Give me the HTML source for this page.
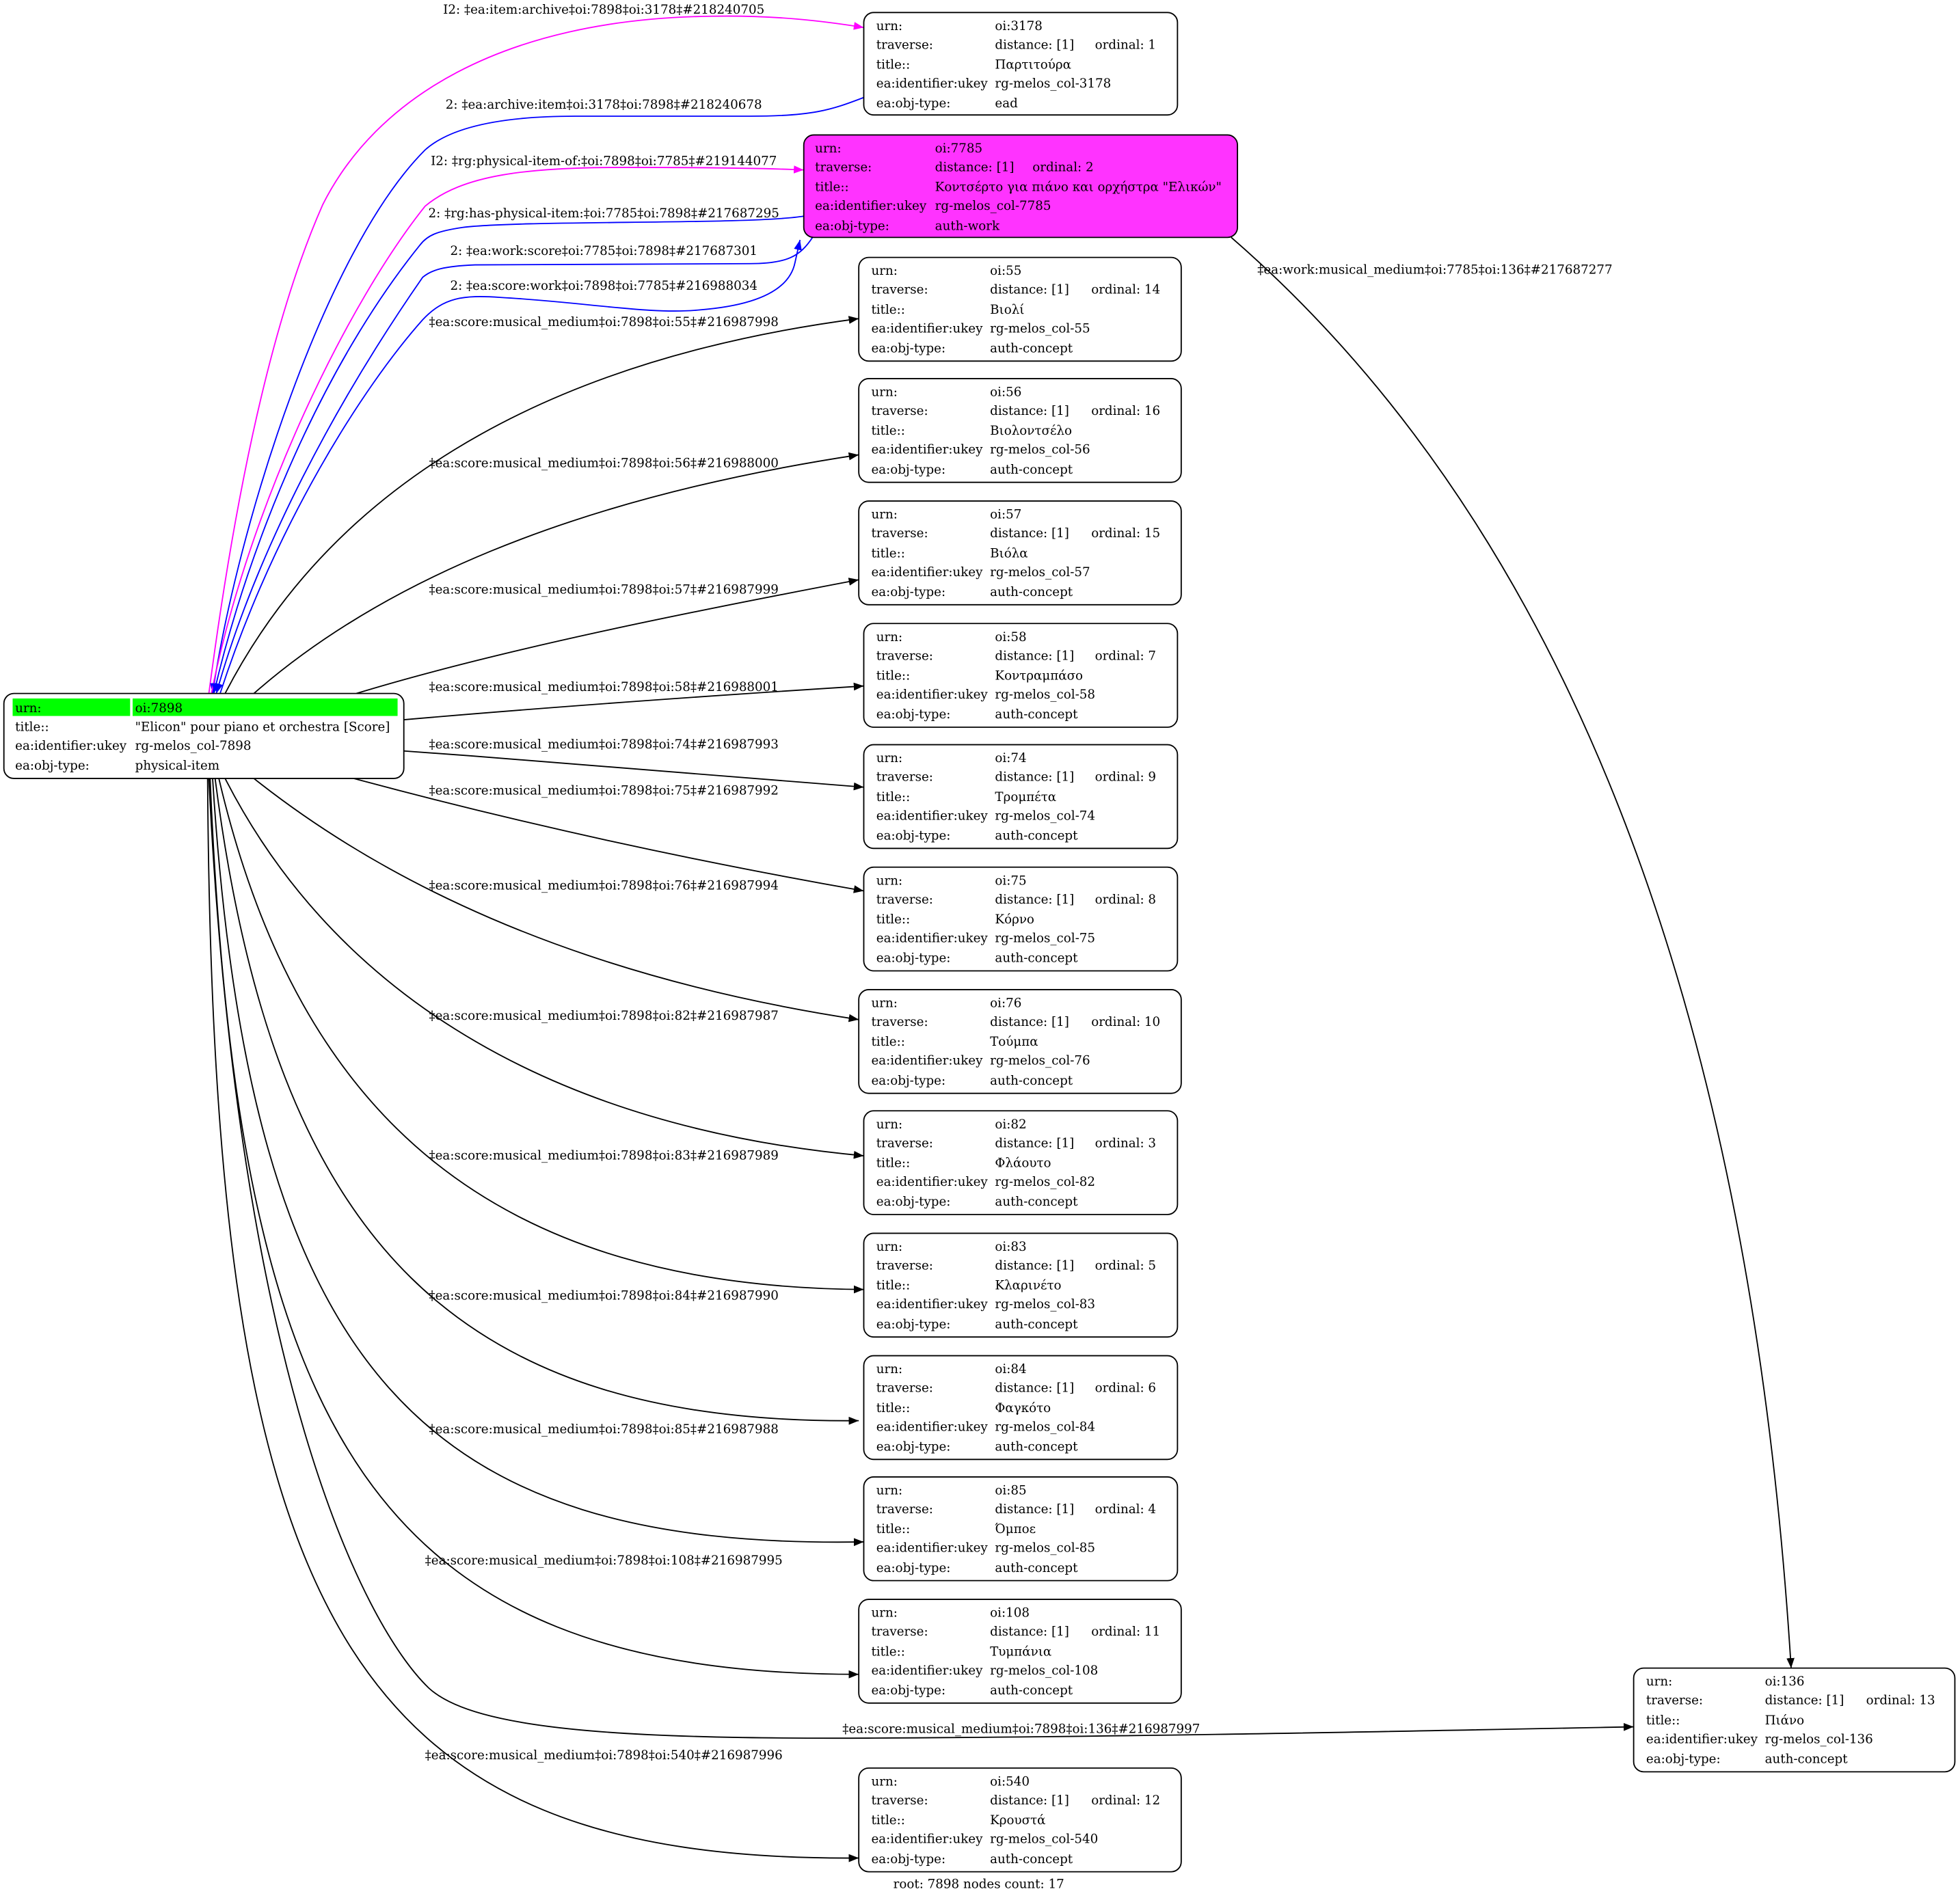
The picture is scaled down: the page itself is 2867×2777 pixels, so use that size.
<!DOCTYPE html>
<html><head><meta charset="utf-8"><style>
html,body{margin:0;padding:0;background:#fff}
svg{display:block}
text{font-family:"DejaVu Serif","Liberation Serif",serif;font-size:10px;fill:#000}
.n rect{fill:#fff;stroke:#000;stroke-width:1}
.e{fill:none;stroke:#000;stroke-width:1}
</style></head><body>
<svg width="2867" height="2777" viewBox="0 0 1568 1519" xmlns="http://www.w3.org/2000/svg">
<defs>
<marker id="ak" viewBox="0 0 10 10" refX="10" refY="5" markerWidth="8" markerHeight="8" orient="auto" markerUnits="userSpaceOnUse"><path d="M0,1 L10,5 L0,9 z" fill="#000"/></marker>
<marker id="am" viewBox="0 0 10 10" refX="10" refY="5" markerWidth="8" markerHeight="8" orient="auto" markerUnits="userSpaceOnUse"><path d="M0,1 L10,5 L0,9 z" fill="#ff00ff"/></marker>
<marker id="ab" viewBox="0 0 10 10" refX="10" refY="5" markerWidth="8" markerHeight="8" orient="auto" markerUnits="userSpaceOnUse"><path d="M0,1 L10,5 L0,9 z" fill="#0000ff"/></marker>
</defs>

<!-- edges -->
<path d="M167,555 C190,380 220,250 258,164 C300,80 400,15 569,13 C620,12 660,17 691,22" style="fill:none;stroke:#ff00ff" marker-end="url(#am)"/>
<path d="M691,78 C665,88 650,93 600,93 L460,93 C400,93 360,102 340,120 C260,200 190,420 170,555" style="fill:none;stroke:#0000ff" marker-end="url(#ab)"/>
<path d="M169,555 C200,400 280,240 340,165 C370,140 420,134 500,134 C580,134 620,135 643,136" style="fill:none;stroke:#ff00ff" marker-end="url(#am)"/>
<path d="M643,173 C600,180 420,176 370,182 C350,185 342,188 336,196 C260,290 200,430 171,555" style="fill:none;stroke:#0000ff" marker-end="url(#ab)"/>
<path d="M650,190 C640,205 630,211 600,211 L380,212 C355,213 345,216 338,222 C270,320 205,440 173,555" style="fill:none;stroke:#0000ff" marker-end="url(#ab)"/>
<path d="M176,555 C220,420 290,310 338,256 C355,238 370,236 400,238 C470,242 520,252 560,248 C610,244 632,230 636,210 L640,192" style="fill:none;stroke:#0000ff" marker-end="url(#ab)"/>

<path class="e" d="M180,555 C260,400 420,290 687,255" marker-end="url(#ak)"/>
<path class="e" d="M203,555 C300,470 450,400 687,364" marker-end="url(#ak)"/>
<path class="e" d="M285,555 C400,520 550,490 687,464" marker-end="url(#ak)"/>
<path class="e" d="M323,576 C450,565 580,556 691,549" marker-end="url(#ak)"/>
<path class="e" d="M323,601 C450,610 580,621 691,630" marker-end="url(#ak)"/>
<path class="e" d="M283,623 C420,660 560,690 691,713" marker-end="url(#ak)"/>
<path class="e" d="M203,623 C300,700 450,780 687,816" marker-end="url(#ak)"/>
<path class="e" d="M180,623 C260,780 420,900 691,925" marker-end="url(#ak)"/>
<path class="e" d="M175,623 C240,900 400,1030 691,1032" marker-end="url(#ak)"/>
<path class="e" d="M172,623 C220,1000 370,1140 687,1137" marker-end="url(#ak)"/>
<path class="e" d="M170,623 C200,1100 340,1240 691,1234" marker-end="url(#ak)"/>
<path class="e" d="M168,623 C190,1150 300,1340 687,1340" marker-end="url(#ak)"/>
<path class="e" d="M167,623 C190,1100 290,1300 343,1351 C380,1385 500,1392 700,1391 C900,1390 1100,1386 1307,1382" marker-end="url(#ak)"/>
<path class="e" d="M166,623 C170,1300 280,1490 687,1487" marker-end="url(#ak)"/>
<path class="e" d="M985,190 C1250,420 1400,800 1433,1335" marker-end="url(#ak)"/>

<!-- edge labels -->
<g text-anchor="middle">
<text x="483" y="11">I2: ‡ea:item:archive‡oi:7898‡oi:3178‡#218240705</text>
<text x="483" y="87">2: ‡ea:archive:item‡oi:3178‡oi:7898‡#218240678</text>
<text x="483" y="132">I2: ‡rg:physical-item-of:‡oi:7898‡oi:7785‡#219144077</text>
<text x="483" y="174">2: ‡rg:has-physical-item:‡oi:7785‡oi:7898‡#217687295</text>
<text x="483" y="204">2: ‡ea:work:score‡oi:7785‡oi:7898‡#217687301</text>
<text x="483" y="232">2: ‡ea:score:work‡oi:7898‡oi:7785‡#216988034</text>
<text x="483" y="261">‡ea:score:musical_medium‡oi:7898‡oi:55‡#216987998</text>
<text x="483" y="374">‡ea:score:musical_medium‡oi:7898‡oi:56‡#216988000</text>
<text x="483" y="475">‡ea:score:musical_medium‡oi:7898‡oi:57‡#216987999</text>
<text x="483" y="553">‡ea:score:musical_medium‡oi:7898‡oi:58‡#216988001</text>
<text x="483" y="599">‡ea:score:musical_medium‡oi:7898‡oi:74‡#216987993</text>
<text x="483" y="636">‡ea:score:musical_medium‡oi:7898‡oi:75‡#216987992</text>
<text x="483" y="712">‡ea:score:musical_medium‡oi:7898‡oi:76‡#216987994</text>
<text x="483" y="816">‡ea:score:musical_medium‡oi:7898‡oi:82‡#216987987</text>
<text x="483" y="928">‡ea:score:musical_medium‡oi:7898‡oi:83‡#216987989</text>
<text x="483" y="1040">‡ea:score:musical_medium‡oi:7898‡oi:84‡#216987990</text>
<text x="483" y="1147">‡ea:score:musical_medium‡oi:7898‡oi:85‡#216987988</text>
<text x="483" y="1252">‡ea:score:musical_medium‡oi:7898‡oi:108‡#216987995</text>
<text x="817" y="1387">‡ea:score:musical_medium‡oi:7898‡oi:136‡#216987997</text>
<text x="483" y="1408">‡ea:score:musical_medium‡oi:7898‡oi:540‡#216987996</text>
<text x="1148" y="219">‡ea:work:musical_medium‡oi:7785‡oi:136‡#217687277</text>
<text x="783" y="1511">root: 7898 nodes count: 17</text>
</g>

<!-- root node -->
<g class="n">
<rect x="3" y="555" width="320" height="68" rx="8"/>
<rect x="10" y="559" width="94" height="14" style="fill:#00ff00;stroke:none"/>
<rect x="106" y="559" width="212" height="14" style="fill:#00ff00;stroke:none"/>
<text x="12" y="570">urn:</text><text x="108" y="570">oi:7898</text>
<text x="12" y="585">title::</text><text x="108" y="585">"Elicon" pour piano et orchestra [Score]</text>
<text x="12" y="600">ea:identifier:ukey</text><text x="108" y="600">rg-melos_col-7898</text>
<text x="12" y="616">ea:obj-type:</text><text x="108" y="616">physical-item</text>
</g>

<!-- 7785 -->
<g class="n">
<rect x="643" y="108" width="347" height="82" rx="8" style="fill:#ff33ff"/>
<text x="652" y="122">urn:</text><text x="748" y="122">oi:7785</text>
<text x="652" y="137">traverse:</text><text x="748" y="137">distance: [1]</text><text x="826" y="137">ordinal: 2</text>
<text x="652" y="153">title::</text><text x="748" y="153">Κοντσέρτο για πιάνο και ορχήστρα "Ελικών"</text>
<text x="652" y="168">ea:identifier:ukey</text><text x="748" y="168">rg-melos_col-7785</text>
<text x="652" y="184">ea:obj-type:</text><text x="748" y="184">auth-work</text>
</g>

<g class="n" transform="translate(691,10)">
<rect x="0" y="0" width="251" height="82" rx="8"/>
<text x="10" y="14">urn:</text><text x="105" y="14">oi:3178</text>
<text x="10" y="29">traverse:</text><text x="105" y="29">distance: [1]</text><text x="185" y="29">ordinal: 1</text>
<text x="10" y="45">title::</text><text x="105" y="45">Παρτιτούρα</text>
<text x="10" y="60">ea:identifier:ukey</text><text x="105" y="60">rg-melos_col-3178</text>
<text x="10" y="76">ea:obj-type:</text><text x="105" y="76">ead</text>
</g>

<g class="n" transform="translate(687,206)">
<rect x="0" y="0" width="258" height="83" rx="8"/>
<text x="10" y="14">urn:</text><text x="105" y="14">oi:55</text>
<text x="10" y="29">traverse:</text><text x="105" y="29">distance: [1]</text><text x="186" y="29">ordinal: 14</text>
<text x="10" y="45">title::</text><text x="105" y="45">Βιολί</text>
<text x="10" y="60">ea:identifier:ukey</text><text x="105" y="60">rg-melos_col-55</text>
<text x="10" y="76">ea:obj-type:</text><text x="105" y="76">auth-concept</text>
</g>

<g class="n" transform="translate(687,303)">
<rect x="0" y="0" width="258" height="83" rx="8"/>
<text x="10" y="14">urn:</text><text x="105" y="14">oi:56</text>
<text x="10" y="29">traverse:</text><text x="105" y="29">distance: [1]</text><text x="186" y="29">ordinal: 16</text>
<text x="10" y="45">title::</text><text x="105" y="45">Βιολοντσέλο</text>
<text x="10" y="60">ea:identifier:ukey</text><text x="105" y="60">rg-melos_col-56</text>
<text x="10" y="76">ea:obj-type:</text><text x="105" y="76">auth-concept</text>
</g>

<g class="n" transform="translate(687,401)">
<rect x="0" y="0" width="258" height="83" rx="8"/>
<text x="10" y="14">urn:</text><text x="105" y="14">oi:57</text>
<text x="10" y="29">traverse:</text><text x="105" y="29">distance: [1]</text><text x="186" y="29">ordinal: 15</text>
<text x="10" y="45">title::</text><text x="105" y="45">Βιόλα</text>
<text x="10" y="60">ea:identifier:ukey</text><text x="105" y="60">rg-melos_col-57</text>
<text x="10" y="76">ea:obj-type:</text><text x="105" y="76">auth-concept</text>
</g>

<g class="n" transform="translate(691,499)">
<rect x="0" y="0" width="251" height="83" rx="8"/>
<text x="10" y="14">urn:</text><text x="105" y="14">oi:58</text>
<text x="10" y="29">traverse:</text><text x="105" y="29">distance: [1]</text><text x="185" y="29">ordinal: 7</text>
<text x="10" y="45">title::</text><text x="105" y="45">Κοντραμπάσο</text>
<text x="10" y="60">ea:identifier:ukey</text><text x="105" y="60">rg-melos_col-58</text>
<text x="10" y="76">ea:obj-type:</text><text x="105" y="76">auth-concept</text>
</g>

<g class="n" transform="translate(691,596)">
<rect x="0" y="0" width="251" height="83" rx="8"/>
<text x="10" y="14">urn:</text><text x="105" y="14">oi:74</text>
<text x="10" y="29">traverse:</text><text x="105" y="29">distance: [1]</text><text x="185" y="29">ordinal: 9</text>
<text x="10" y="45">title::</text><text x="105" y="45">Τρομπέτα</text>
<text x="10" y="60">ea:identifier:ukey</text><text x="105" y="60">rg-melos_col-74</text>
<text x="10" y="76">ea:obj-type:</text><text x="105" y="76">auth-concept</text>
</g>

<g class="n" transform="translate(691,694)">
<rect x="0" y="0" width="251" height="83" rx="8"/>
<text x="10" y="14">urn:</text><text x="105" y="14">oi:75</text>
<text x="10" y="29">traverse:</text><text x="105" y="29">distance: [1]</text><text x="185" y="29">ordinal: 8</text>
<text x="10" y="45">title::</text><text x="105" y="45">Κόρνο</text>
<text x="10" y="60">ea:identifier:ukey</text><text x="105" y="60">rg-melos_col-75</text>
<text x="10" y="76">ea:obj-type:</text><text x="105" y="76">auth-concept</text>
</g>

<g class="n" transform="translate(687,792)">
<rect x="0" y="0" width="258" height="83" rx="8"/>
<text x="10" y="14">urn:</text><text x="105" y="14">oi:76</text>
<text x="10" y="29">traverse:</text><text x="105" y="29">distance: [1]</text><text x="186" y="29">ordinal: 10</text>
<text x="10" y="45">title::</text><text x="105" y="45">Τούμπα</text>
<text x="10" y="60">ea:identifier:ukey</text><text x="105" y="60">rg-melos_col-76</text>
<text x="10" y="76">ea:obj-type:</text><text x="105" y="76">auth-concept</text>
</g>

<g class="n" transform="translate(691,889)">
<rect x="0" y="0" width="251" height="83" rx="8"/>
<text x="10" y="14">urn:</text><text x="105" y="14">oi:82</text>
<text x="10" y="29">traverse:</text><text x="105" y="29">distance: [1]</text><text x="185" y="29">ordinal: 3</text>
<text x="10" y="45">title::</text><text x="105" y="45">Φλάουτο</text>
<text x="10" y="60">ea:identifier:ukey</text><text x="105" y="60">rg-melos_col-82</text>
<text x="10" y="76">ea:obj-type:</text><text x="105" y="76">auth-concept</text>
</g>

<g class="n" transform="translate(691,987)">
<rect x="0" y="0" width="251" height="83" rx="8"/>
<text x="10" y="14">urn:</text><text x="105" y="14">oi:83</text>
<text x="10" y="29">traverse:</text><text x="105" y="29">distance: [1]</text><text x="185" y="29">ordinal: 5</text>
<text x="10" y="45">title::</text><text x="105" y="45">Κλαρινέτο</text>
<text x="10" y="60">ea:identifier:ukey</text><text x="105" y="60">rg-melos_col-83</text>
<text x="10" y="76">ea:obj-type:</text><text x="105" y="76">auth-concept</text>
</g>

<g class="n" transform="translate(691,1085)">
<rect x="0" y="0" width="251" height="83" rx="8"/>
<text x="10" y="14">urn:</text><text x="105" y="14">oi:84</text>
<text x="10" y="29">traverse:</text><text x="105" y="29">distance: [1]</text><text x="185" y="29">ordinal: 6</text>
<text x="10" y="45">title::</text><text x="105" y="45">Φαγκότο</text>
<text x="10" y="60">ea:identifier:ukey</text><text x="105" y="60">rg-melos_col-84</text>
<text x="10" y="76">ea:obj-type:</text><text x="105" y="76">auth-concept</text>
</g>

<g class="n" transform="translate(691,1182)">
<rect x="0" y="0" width="251" height="83" rx="8"/>
<text x="10" y="14">urn:</text><text x="105" y="14">oi:85</text>
<text x="10" y="29">traverse:</text><text x="105" y="29">distance: [1]</text><text x="185" y="29">ordinal: 4</text>
<text x="10" y="45">title::</text><text x="105" y="45">Όμποε</text>
<text x="10" y="60">ea:identifier:ukey</text><text x="105" y="60">rg-melos_col-85</text>
<text x="10" y="76">ea:obj-type:</text><text x="105" y="76">auth-concept</text>
</g>

<g class="n" transform="translate(687,1280)">
<rect x="0" y="0" width="258" height="83" rx="8"/>
<text x="10" y="14">urn:</text><text x="105" y="14">oi:108</text>
<text x="10" y="29">traverse:</text><text x="105" y="29">distance: [1]</text><text x="186" y="29">ordinal: 11</text>
<text x="10" y="45">title::</text><text x="105" y="45">Τυμπάνια</text>
<text x="10" y="60">ea:identifier:ukey</text><text x="105" y="60">rg-melos_col-108</text>
<text x="10" y="76">ea:obj-type:</text><text x="105" y="76">auth-concept</text>
</g>

<g class="n" transform="translate(1307,1335)">
<rect x="0" y="0" width="257" height="83" rx="8"/>
<text x="10" y="14">urn:</text><text x="105" y="14">oi:136</text>
<text x="10" y="29">traverse:</text><text x="105" y="29">distance: [1]</text><text x="186" y="29">ordinal: 13</text>
<text x="10" y="45">title::</text><text x="105" y="45">Πιάνο</text>
<text x="10" y="60">ea:identifier:ukey</text><text x="105" y="60">rg-melos_col-136</text>
<text x="10" y="76">ea:obj-type:</text><text x="105" y="76">auth-concept</text>
</g>

<g class="n" transform="translate(687,1415)">
<rect x="0" y="0" width="258" height="83" rx="8"/>
<text x="10" y="14">urn:</text><text x="105" y="14">oi:540</text>
<text x="10" y="29">traverse:</text><text x="105" y="29">distance: [1]</text><text x="186" y="29">ordinal: 12</text>
<text x="10" y="45">title::</text><text x="105" y="45">Κρουστά</text>
<text x="10" y="60">ea:identifier:ukey</text><text x="105" y="60">rg-melos_col-540</text>
<text x="10" y="76">ea:obj-type:</text><text x="105" y="76">auth-concept</text>
</g>
</svg>
</body></html>
